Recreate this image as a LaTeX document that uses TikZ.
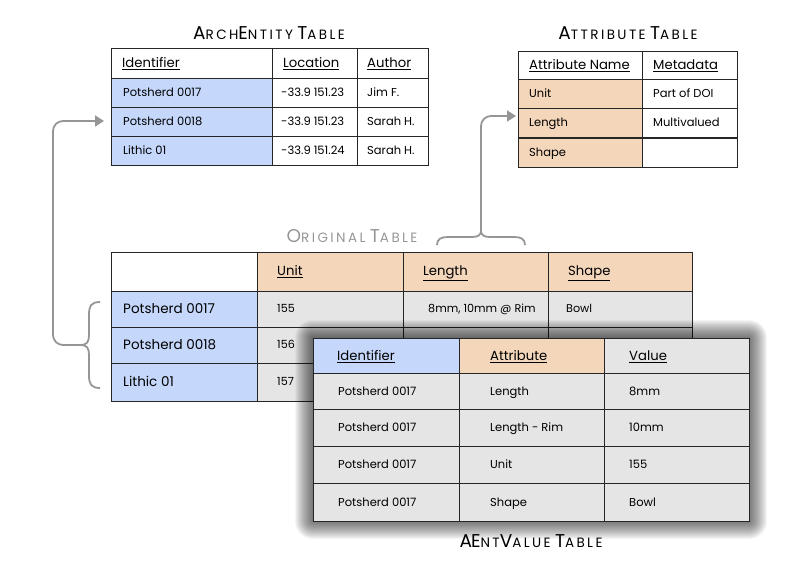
\documentclass[tikz,border=0pt]{standalone}
\usepackage{fontspec}
\setmainfont{Poppins}
\newfontfamily\titlefont[LetterSpace=18]{Poppins}
\usepackage{tikz}
\usetikzlibrary{calc}
\usetikzlibrary{arrows.meta}

\definecolor{idblue}{RGB}{197,216,252}
\definecolor{attrpeach}{RGB}{244,214,186}
\definecolor{valgray}{RGB}{229,229,229}
\definecolor{linkgray}{RGB}{150,150,150}

\newcommand{\tcapbig}[1]{{\fontsize{18.5}{19}\selectfont #1}}
\newcommand{\tcapsmall}[1]{{\fontsize{13.5}{14}\selectfont #1}}

\tikzset{
  cell/.style={draw=black!85, line width=0.9pt},
  title/.style={font=\titlefont},
  bodytext/.style={anchor=base west, inner sep=0pt, yshift=-4pt, font=\fontsize{11.5}{12}\selectfont},
  bigtext/.style={anchor=base west, inner sep=0pt, yshift=-4.7pt, font=\fontsize{13.5}{14}\selectfont},
  smalltext/.style={anchor=base west, inner sep=0pt, yshift=-3.9pt, font=\fontsize{11.2}{12}\selectfont},
  headtext/.style={anchor=base west, inner sep=0pt, yshift=-4.6pt, font=\fontsize{13.2}{14}\selectfont},
  brace/.style={draw=linkgray, line width=1.8pt},
  link/.style={draw=linkgray, line width=1.8pt, rounded corners=10pt, -{Triangle[length=9pt,width=11pt]}}
}

\begin{document}
\begin{tikzpicture}[x=1pt, y=-1pt]
\useasboundingbox (0,0) rectangle (800,572);

%ArchEntity
\node[title] (archtitle) at (269,33) {\tcapbig{A}\tcapsmall{RCH}\tcapbig{E}\tcapsmall{NTITY} \tcapbig{T}\tcapsmall{ABLE}};
\draw[cell] (111,48) rectangle (272,78);
\draw[cell] (272,48) rectangle (357,78);
\draw[cell] (357,48) rectangle (428,78);
\node[headtext] (arch-h1) at (122,63) {\underline{Identifier}};
\node[headtext] (arch-h2) at (283,63) {\underline{Location}};
\node[headtext] (arch-h3) at (367,63) {\underline{Author}};
\foreach \y/\ident/\loc/\auth in {78/Potsherd 0017/-33.9 151.23/Jim F.,
    107/Potsherd 0018/-33.9 151.23/Sarah H.,
    136/Lithic 01/-33.9 151.24/Sarah H.} {
  \draw[cell, fill=idblue] (111,\y) rectangle +(161,29);
  \draw[cell] (272,\y) rectangle +(85,29);
  \draw[cell] (357,\y) rectangle +(71,29);
  \node[bodytext] (arch-\y-id) at (123,\y+14.5) {\ident};
  \node[bodytext] (arch-\y-loc) at (281,\y+14.5) {\loc};
  \node[bodytext] (arch-\y-auth) at (367,\y+14.5) {\auth};
}
\coordinate (archin) at (104,121);

%Attribute
\node[title] (attrtitle) at (628,33) {\tcapbig{A}\tcapsmall{TTRIBUTE} \tcapbig{T}\tcapsmall{ABLE}};
\draw[cell] (518,51) rectangle (642,79);
\draw[cell] (642,51) rectangle (737,79);
\node[headtext] (attr-h1) at (529,65) {\underline{Attribute Name}};
\node[headtext] (attr-h2) at (653,65) {\underline{Metadata}};
\foreach \y/\name/\meta in {79/Unit/Part of DOI, 108/Length/Multivalued, 138/Shape/} {
  \draw[cell, fill=attrpeach] (518,\y) rectangle +(124,29.5);
  \draw[cell] (642,\y) rectangle +(95,29.5);
  \node[bodytext] (attr-\y-name) at (529,\y+15) {\name};
  \node[bodytext] (attr-\y-meta) at (653,\y+15) {\meta};
}
\coordinate (attrin) at (516,116);

%Original
\node[title, text=linkgray] (origtitle) at (352,236) {\tcapbig{O}\tcapsmall{RIGINAL} \tcapbig{T}\tcapsmall{ABLE}};
\draw[cell] (111,252) rectangle (257,291);
\foreach \x/\w/\attr in {257/146/Unit, 403/145/Length, 548/144/Shape} {
  \draw[cell, fill=attrpeach] (\x,252) rectangle +(\w,39);
  \node[headtext] (orig-h-\attr) at (\x+20,271) {\underline{\attr}};
}
\foreach \y/\h/\ident/\unit in {291/36/Potsherd 0017/155, 327/36/Potsherd 0018/156, 363/38/Lithic 01/157} {
  \draw[cell, fill=idblue] (111,\y) rectangle +(146,\h);
  \draw[cell, fill=valgray] (257,\y) rectangle +(146,\h);
  \draw[cell, fill=valgray] (403,\y) rectangle +(145,\h);
  \draw[cell, fill=valgray] (548,\y) rectangle +(144,\h);
  \node[bigtext] (orig-\y-id) at (123,\y+\h/2) {\ident};
  \node[smalltext] (orig-\y-unit) at (277,\y+\h/2) {\unit};
}
\node[smalltext] (orig-291-len) at (428,309) {8mm, 10mm @ Rim};
\node[smalltext] (orig-291-shape) at (566,309) {Bowl};

%links
\draw[brace] (100,302) .. controls (91,302) and (89,306) .. (89,315) -- (89,335) .. controls (89,342) and (87,345) .. (80,345);
\draw[brace] (100,388) .. controls (91,388) and (89,384) .. (89,375) -- (89,355) .. controls (89,348) and (87,345) .. (80,345);
\coordinate (leftbrace) at (80,345);
\draw[link] (leftbrace) -- (53,345) -- (53,121) -- (archin);
\draw[brace] (437,245) .. controls (437,239) and (441,237) .. (448,237) -- (472,237) .. controls (478,237) and (481,235) .. (481,231);
\draw[brace] (525,245) .. controls (525,239) and (521,237) .. (514,237) -- (490,237) .. controls (484,237) and (481,235) .. (481,231);
\coordinate (topbrace) at (481,231);
\draw[link] (topbrace) -- (481,116) -- (attrin);

%AEntValue
\foreach \r in {1,...,18} {
  \fill[black, opacity=0.04, rounded corners=\r pt] (313-\r,338-\r) rectangle (749+\r,521+\r);
}
\draw[cell, fill=idblue] (313,338) rectangle (459,373);
\draw[cell, fill=attrpeach] (459,338) rectangle (604,373);
\draw[cell, fill=valgray] (604,338) rectangle (749,373);
\node[headtext] (aev-h1) at (337,356) {\underline{Identifier}};
\node[headtext] (aev-h2) at (490,356) {\underline{Attribute}};
\node[headtext] (aev-h3) at (629,356) {\underline{Value}};
\foreach \y/\h/\attr/\val in {373/36/Length/8mm, 409/37/Length - Rim/10mm, 446/37/Unit/155, 483/38/Shape/Bowl} {
  \draw[cell, fill=valgray] (313,\y) rectangle +(146,\h);
  \draw[cell, fill=valgray] (459,\y) rectangle +(145,\h);
  \draw[cell, fill=valgray] (604,\y) rectangle +(145,\h);
  \node[bodytext] (aev-\y-id) at (338,\y+\h/2) {Potsherd 0017};
  \node[bodytext] (aev-\y-attr) at (490,\y+\h/2) {\attr};
  \node[bodytext] (aev-\y-val) at (629,\y+\h/2) {\val};
}
\node[title] (aevtitle) at (531,541) {\tcapbig{A\kern-1pt E}\tcapsmall{NT}\tcapbig{V}\tcapsmall{ALUE} \tcapbig{T}\tcapsmall{ABLE}};
\end{tikzpicture}
\end{document}
